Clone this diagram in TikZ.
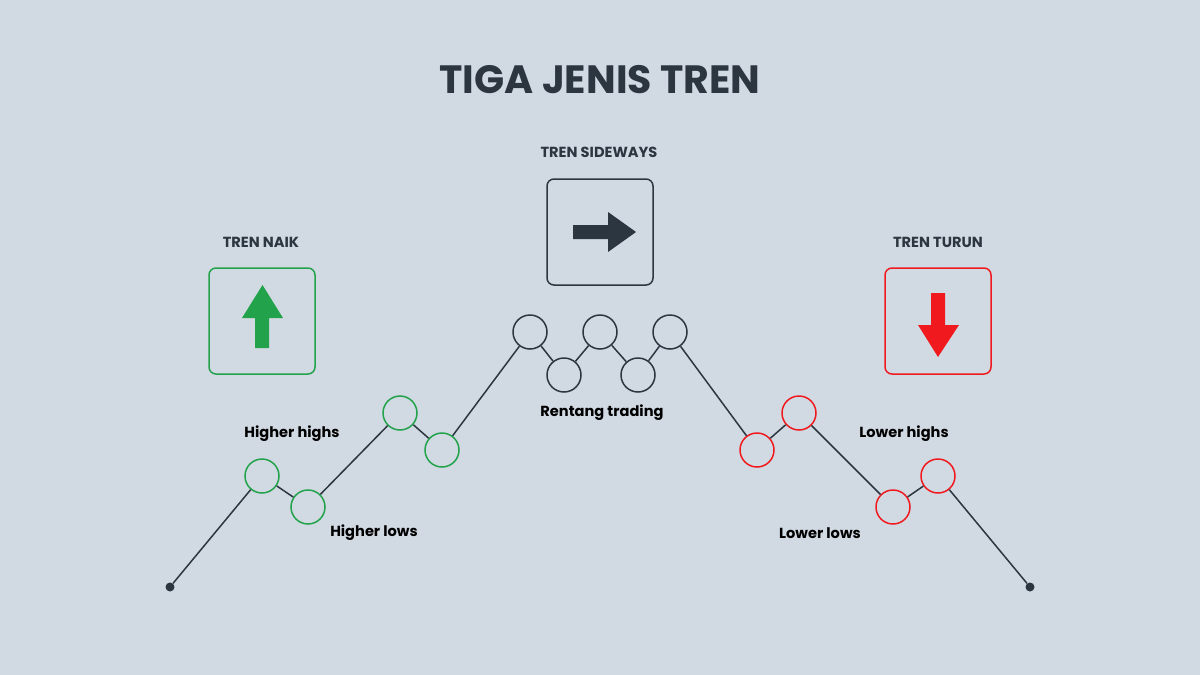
\documentclass[tikz,border=0pt]{standalone}
\usepackage{fontspec}
\setmainfont{Poppins}
\definecolor{bg}{HTML}{D1DAE3}
\definecolor{dk}{HTML}{2B3640}
\definecolor{gr}{HTML}{22A24A}
\definecolor{rd}{HTML}{F01A1E}
\begin{document}
\begin{tikzpicture}[x=1pt,y=-1pt,
  pt/.style={circle,draw=#1,line width=1.5pt,minimum size=34pt,inner sep=0pt},
  dot/.style={circle,fill=dk,minimum size=9pt,inner sep=0pt},
  box/.style={draw=#1,line width=1.5pt,rounded corners=7pt,minimum size=106pt},
  lbl/.style={text=black,font=\fontsize{14.6}{16}\selectfont\bfseries},
  hd/.style={text=dk,font=\fontsize{14.6}{16}\selectfont\bfseries},
  ln/.style={draw=dk,line width=1.5pt}]
\fill[bg] (0,0) rectangle (1200,675);
\useasboundingbox (0,0) rectangle (1200,675);
\node[text=dk,font=\fontsize{39.5}{42}\selectfont\bfseries] (title) at (600,80) {TIGA JENIS TREN};
\node[hd] (h1) at (261,242) {TREN NAIK};
\node[hd] (h2) at (599,152) {TREN SIDEWAYS};
\node[hd] (h3) at (938,242) {TREN TURUN};
\node[box=gr] (b1) at (262,321) {};
\node[box=dk] (b2) at (600,232) {};
\node[box=rd] (b3) at (938,321) {};
\fill[gr] (255,348) -- (255,318) -- (242,318) -- (262.5,285) -- (283,318) -- (269,318) -- (269,348) -- cycle;
\fill[dk] (573,225) -- (608,225) -- (608,212) -- (636,232) -- (608,252) -- (608,239) -- (573,239) -- cycle;
\fill[rd] (931,293) -- (945,293) -- (945,325) -- (959,325) -- (938,357) -- (918,325) -- (931,325) -- cycle;
\node[dot] (s) at (170,587) {};
\node[dot] (e) at (1030,587) {};
\node[pt=gr] (g1) at (262,476) {};
\node[pt=gr] (g2) at (308,507) {};
\node[pt=gr] (g3) at (400,413) {};
\node[pt=gr] (g4) at (442,450) {};
\node[pt=dk] (d1) at (530,332) {};
\node[pt=dk] (d2) at (564,375) {};
\node[pt=dk] (d3) at (600,332) {};
\node[pt=dk] (d4) at (638,375) {};
\node[pt=dk] (d5) at (670,332) {};
\node[pt=rd] (r1) at (757,450) {};
\node[pt=rd] (r2) at (799,413) {};
\node[pt=rd] (r3) at (893,507) {};
\node[pt=rd] (r4) at (938,476) {};
\draw[ln] (s)--(g1); \draw[ln] (g1)--(g2); \draw[ln] (g2)--(g3); \draw[ln] (g3)--(g4);
\draw[ln] (g4)--(d1); \draw[ln] (d1)--(d2); \draw[ln] (d2)--(d3); \draw[ln] (d3)--(d4);
\draw[ln] (d4)--(d5); \draw[ln] (d5)--(r1); \draw[ln] (r1)--(r2); \draw[ln] (r2)--(r3);
\draw[ln] (r3)--(r4); \draw[ln] (r4)--(e);
\node[lbl] (l1) at (292,434) {Higher highs};
\node[lbl] (l2) at (374,533) {Higher lows};
\node[lbl] (l3) at (602,413) {Rentang trading};
\node[lbl] (l4) at (904,434) {Lower highs};
\node[lbl] (l5) at (820,533) {Lower lows};
\end{tikzpicture}
\end{document}
